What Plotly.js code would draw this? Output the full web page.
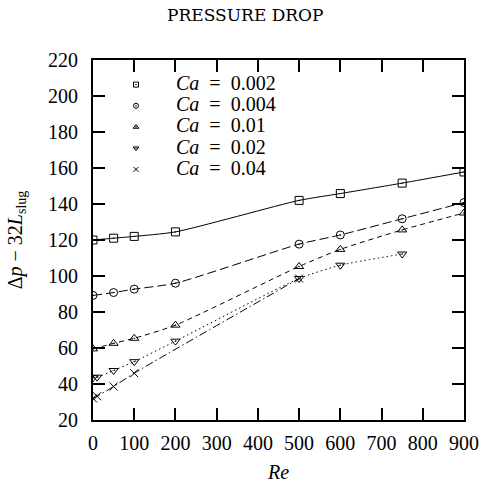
<!DOCTYPE html>
<html>
<head>
<meta charset="utf-8">
<script src="https://cdn.plot.ly/plotly-3.0.1.min.js"></script>
<style>html,body{margin:0;padding:0;background:#fff;}#chart{width:481px;height:483px;}</style>
</head>
<body>
<div id="chart"></div>
<script>
// Data
const reA = [0, 50, 100, 200, 500, 600, 750, 900];
const ca002 = [120, 121, 122, 124.5, 142, 145.8, 151.6, 157.8];
const ca004 = [89.2, 90.8, 92.7, 96, 117.7, 122.8, 131.8, 140.8];
const ca01 = [59.5, 62.6, 65.4, 72.7, 105.3, 114.8, 125.6, 135];
const reB = [0, 10, 50, 100, 200, 500, 600, 750];
const ca02 = [43.5, 43.8, 47.5, 52.4, 63.8, 98.6, 106, 112.2];
const reC = [0, 10, 50, 100, 500];
const ca04 = [32, 33.2, 38.6, 46, 98.6];
const caValues = ['0.002', '0.004', '0.01', '0.02', '0.04'];

const FONT = 'Liberation Serif, Times New Roman, serif';
const symbols = ['square-open-dot', 'circle-open-dot', 'triangle-up-open-dot', 'triangle-down-open-dot', 'x-thin-open'];
const dashes = ['solid', '9px,4px', '5px,4px', '1.5px,3px', '8px,3px,1.5px,3px'];
const series = [[reA, ca002], [reA, ca004], [reA, ca01], [reB, ca02], [reC, ca04]];

const traces = [];
series.forEach((s, i) => {
  traces.push({
    x: s[0], y: s[1], mode: 'lines+markers', showlegend: false,
    line: {color: '#000', width: 1, dash: dashes[i], shape: 'spline', smoothing: 0.6},
    marker: {symbol: symbols[i], size: 8, color: '#000', line: {color: '#000', width: 1}}
  });
});
caValues.forEach((v, i) => {
  traces.push({
    x: [null], y: [null], mode: 'markers', showlegend: true,
    name: '<span style="font-size:20px">\u2003<i>Ca</i>\u2002=\u2002' + v + '</span>',
    marker: {symbol: symbols[i], size: 5, color: '#000', line: {color: '#000', width: 1}}
  });
});

const axisCommon = {
  showgrid: false, zeroline: false, showline: true, linecolor: '#000', linewidth: 2,
  mirror: 'ticks', ticks: 'inside', ticklen: 12, tickwidth: 2, tickcolor: '#000',
  tickfont: {family: FONT, size: 20, color: '#000'}
};

const layout = {
  width: 481, height: 483,
  margin: {l: 93, r: 17, t: 60, b: 63},
  paper_bgcolor: '#fff', plot_bgcolor: '#fff',
  font: {family: FONT, color: '#000'},
  title: {text: 'PRESSURE DROP', font: {family: 'DejaVu Serif, serif', size: 17, color: '#000'}, x: 0.51, xref: 'container', y: 0.982, yref: 'container', yanchor: 'top'},
  xaxis: Object.assign({}, axisCommon, {range: [0, 900], tickvals: [0,100,200,300,400,500,600,700,800,900],
    ticklabelstandoff: 4,
    title: {text: '<i>Re</i>', font: {family: FONT, size: 20, color: '#000'}, standoff: 18}}),
  yaxis: Object.assign({}, axisCommon, {range: [20, 220], tickvals: [20,40,60,80,100,120,140,160,180,200,220],
    ticklabelstandoff: 9,
    title: {text: 'Δ<i>p</i> − 32<i>L</i><sub>slug</sub>', font: {family: FONT, size: 20, color: '#000'}, standoff: 20}}),
  legend: {x: 0.062, y: 0.975, xanchor: 'left', yanchor: 'top', bgcolor: 'rgba(0,0,0,0)',
    font: {family: FONT, size: 14, color: '#000'}, tracegroupgap: 0, itemwidth: 30}
};

Plotly.newPlot('chart', traces, layout, {displayModeBar: false, staticPlot: true});
</script>
</body>
</html>
